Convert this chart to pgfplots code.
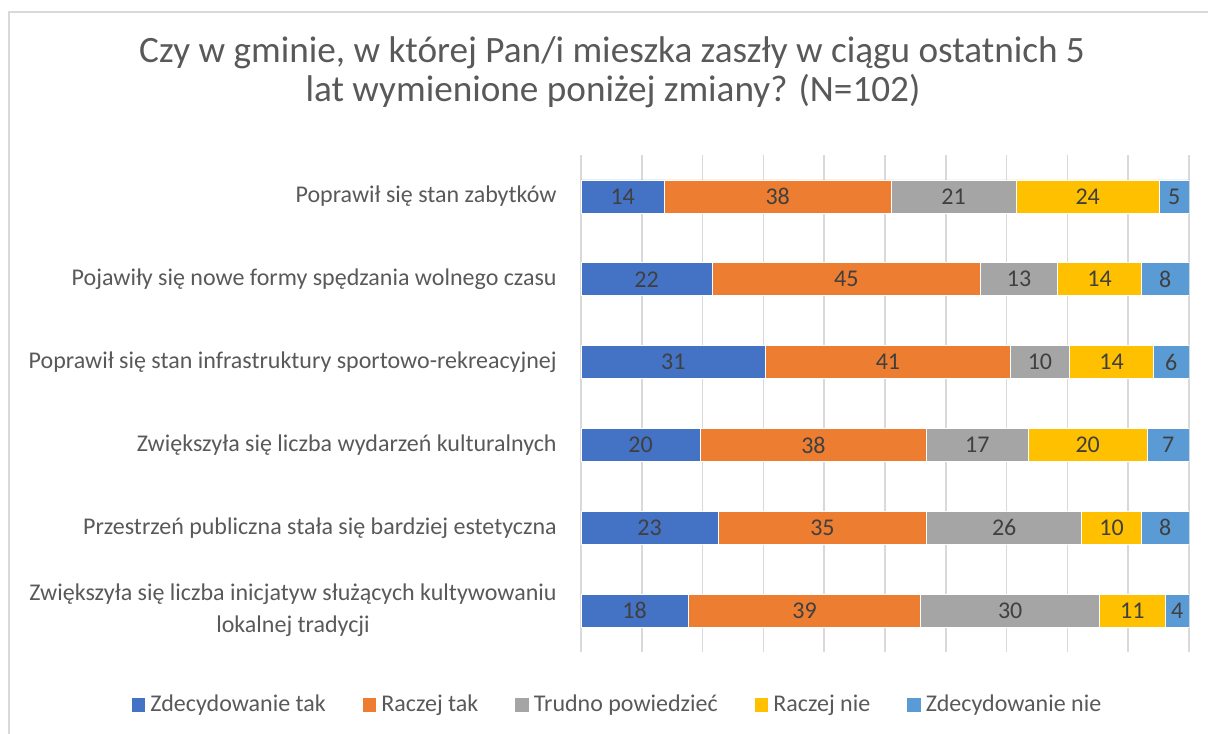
\documentclass[border=0pt]{standalone}
\usepackage{pgfplots}
\pgfplotsset{compat=1.18}
\usepackage{fontspec}
\setmainfont{Carlito}
\definecolor{cA}{HTML}{4472C4}
\definecolor{cB}{HTML}{ED7D31}
\definecolor{cC}{HTML}{A5A5A5}
\definecolor{cD}{HTML}{FFC000}
\definecolor{cE}{HTML}{5B9BD5}
\definecolor{txt}{HTML}{595959}
\definecolor{lbl}{HTML}{404040}
\definecolor{grd}{HTML}{D9D9D9}
\begin{document}
\begin{tikzpicture}
\useasboundingbox (0,0) rectangle (604pt,366.5pt);
\draw[grd, line width=0.75pt] (4.5pt,-1pt) -- (4.5pt,360.5pt) -- (606pt,360.5pt);
\node[anchor=base, text=txt, font=\fontsize{18.6pt}{22pt}\selectfont, inner sep=0pt] at (306pt,335pt) {Czy w gminie, w której Pan/i mieszka zaszły w ciągu ostatnich 5};
\node[anchor=base, text=txt, font=\fontsize{18.6pt}{22pt}\selectfont, inner sep=0pt] at (306.5pt,315.5pt) {lat wymienione poniżej zmiany? (N=102)};
\begin{axis}[
  at={(290.5pt,40.5pt)}, anchor=south west,
  scale only axis, width=304pt, height=248.5pt,
  xbar stacked, bar width=16.5pt,
  xmin=0, xmax=102, ymin=-0.5, ymax=5.5, y dir=reverse,
  axis line style={draw=none},
  xtick={0,10.2,20.4,30.6,40.8,51,61.2,71.4,81.6,91.8,102},
  xticklabels={},
  xmajorgrids, grid style={grd, line width=0.75pt},
  major tick length=0pt, tick style={draw=none},
  ytick={0,1,2,3,4,5},
  yticklabels={Poprawił się stan zabytków,
    Pojawiły się nowe formy spędzania wolnego czasu,
    Poprawił się stan infrastruktury sportowo-rekreacyjnej,
    Zwiększyła się liczba wydarzeń kulturalnych,
    Przestrzeń publiczna stała się bardziej estetyczna,
    {Zwiększyła się liczba inicjatyw służących kultywowaniu\\lokalnej tradycji}},
  yticklabel style={align=center, text=txt, font=\fontsize{12pt}{16pt}\selectfont, inner sep=0pt, xshift=-12pt},
  legend columns=5,
  legend style={at={(0.0625,-0.1066)}, anchor=center, draw=none, fill=none,
    font=\fontsize{12pt}{14pt}\selectfont, text=txt,
    /tikz/every even column/.append style={column sep=16pt},
    nodes={inner xsep=2.5pt}},
  legend cell align=left,
  legend image code/.code={\fill[#1, draw=none] (0pt,-3.4pt) rectangle (6.8pt,3.4pt);},
  every axis plot/.append style={draw=white, line width=0.4pt},
]
\addplot[fill=cA] coordinates {(14,0) (22,1) (31,2) (20,3) (23,4) (18,5)};
\addplot[fill=cB] coordinates {(38,0) (45,1) (41,2) (38,3) (35,4) (39,5)};
\addplot[fill=cC] coordinates {(21,0) (13,1) (10,2) (17,3) (26,4) (30,5)};
\addplot[fill=cD] coordinates {(24,0) (14,1) (14,2) (20,3) (10,4) (11,5)};
\addplot[fill=cE] coordinates {(5,0) (8,1) (6,2) (7,3) (8,4) (4,5)};
\legend{Zdecydowanie tak, Raczej tak, Trudno powiedzieć, Raczej nie, Zdecydowanie nie}
\end{axis}
\begin{axis}[
  at={(290.5pt,40.5pt)}, anchor=south west,
  scale only axis, width=304pt, height=248.5pt,
  xmin=0, xmax=102, ymin=-0.5, ymax=5.5, y dir=reverse,
  hide axis,
]
\addplot[draw=none, mark=none, nodes near coords, point meta=explicit symbolic,
  every node near coord/.style={anchor=center, text=lbl, font=\fontsize{12pt}{14pt}\selectfont}]
coordinates {
 (7,0)[14] (33,0)[38] (62.5,0)[21] (85,0)[24] (99.5,0)[5]
 (11,1)[22] (44.5,1)[45] (73.5,1)[13] (87,1)[14] (98,1)[8]
 (15.5,2)[31] (51.5,2)[41] (77,2)[10] (89,2)[14] (99,2)[6]
 (10,3)[20] (39,3)[38] (66.5,3)[17] (85,3)[20] (98.5,3)[7]
 (11.5,4)[23] (40.5,4)[35] (71,4)[26] (89,4)[10] (98,4)[8]
 (9,5)[18] (37.5,5)[39] (72,5)[30] (92.5,5)[11] (100,5)[4]
};
\end{axis}
\end{tikzpicture}
\end{document}
